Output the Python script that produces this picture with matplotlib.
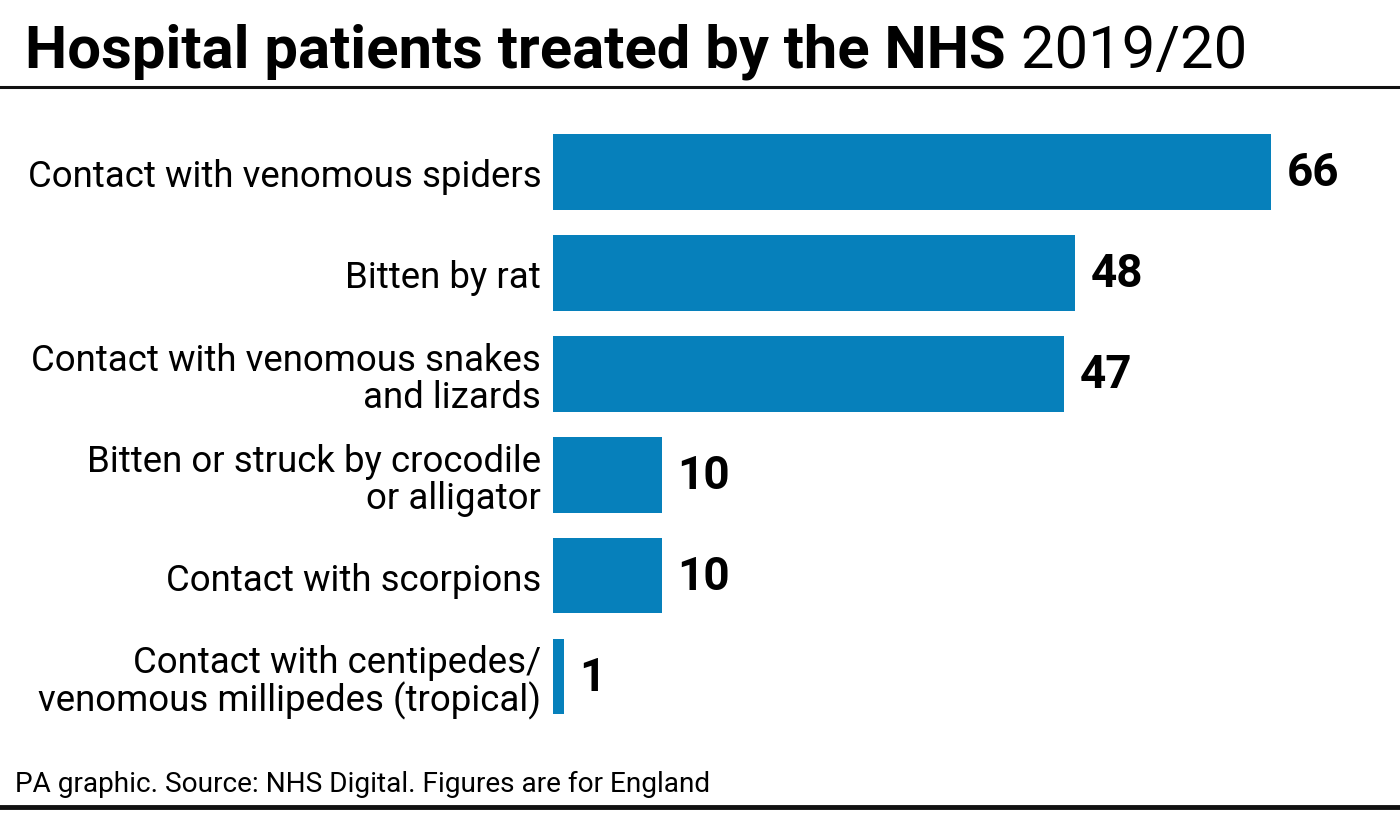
import matplotlib
import matplotlib.pyplot as plt
from matplotlib.lines import Line2D

matplotlib.use('Agg')
plt.rcParams['font.family'] = ['Roboto', 'DejaVu Sans']

categories = ['Contact with venomous spiders',
              'Bitten by rat',
              'Contact with venomous snakes\nand lizards',
              'Bitten or struck by crocodile\nor alligator',
              'Contact with scorpions',
              'Contact with centipedes/\nvenomous millipedes (tropical)']
patients = [66, 48, 47, 10, 10, 1]

bar_color = '#0680bb'

fig = plt.figure(figsize=(14, 8.2), dpi=100)
ax = fig.add_axes([553 / 1400, 1 - 728 / 820, 807 / 1400, (728 - 122.5) / 820])

pos = list(range(len(categories)))
ax.barh(pos, patients, height=0.75, color=bar_color)
ax.set_xlim(0, 807 / 10.88)
ax.set_ylim(len(categories) - 0.5, -0.5)

ax.set_yticks(pos)
ax.set_yticklabels(categories, fontsize=26.4, linespacing=1.05)
ax.tick_params(axis='y', length=0, pad=8.5)
ax.tick_params(axis='x', bottom=False, labelbottom=False)
for s in ax.spines.values():
    s.set_visible(False)

# value labels next to the bars
for p, v in zip(pos, patients):
    ax.annotate(str(v), xy=(v, p), xytext=(11, 0), textcoords='offset points',
                ha='left', va='center', fontsize=33, fontweight='bold')

# title: bold part + regular year
t = fig.text(25 / 1400, 1 - 67 / 820, 'Hospital patients treated by the NHS',
             fontsize=43, fontweight='bold', ha='left', va='baseline')
ax.annotate(' 2019/20', xy=(1, 0), xycoords=t, fontsize=43, ha='left', va='bottom',
            annotation_clip=False)

fig.add_artist(Line2D([0, 1], [1 - 88 / 820, 1 - 88 / 820], color='#111111', lw=2.2,
                      transform=fig.transFigure))
fig.add_artist(Line2D([0, 1], [1 - 808 / 820, 1 - 808 / 820], color='#111111', lw=3.5,
                      transform=fig.transFigure))

fig.text(15 / 1400, 1 - 792 / 820, 'PA graphic. Source: NHS Digital. Figures are for England',
         fontsize=20.2, ha='left', va='baseline')

fig.savefig('out.png', dpi=100, facecolor='white')
